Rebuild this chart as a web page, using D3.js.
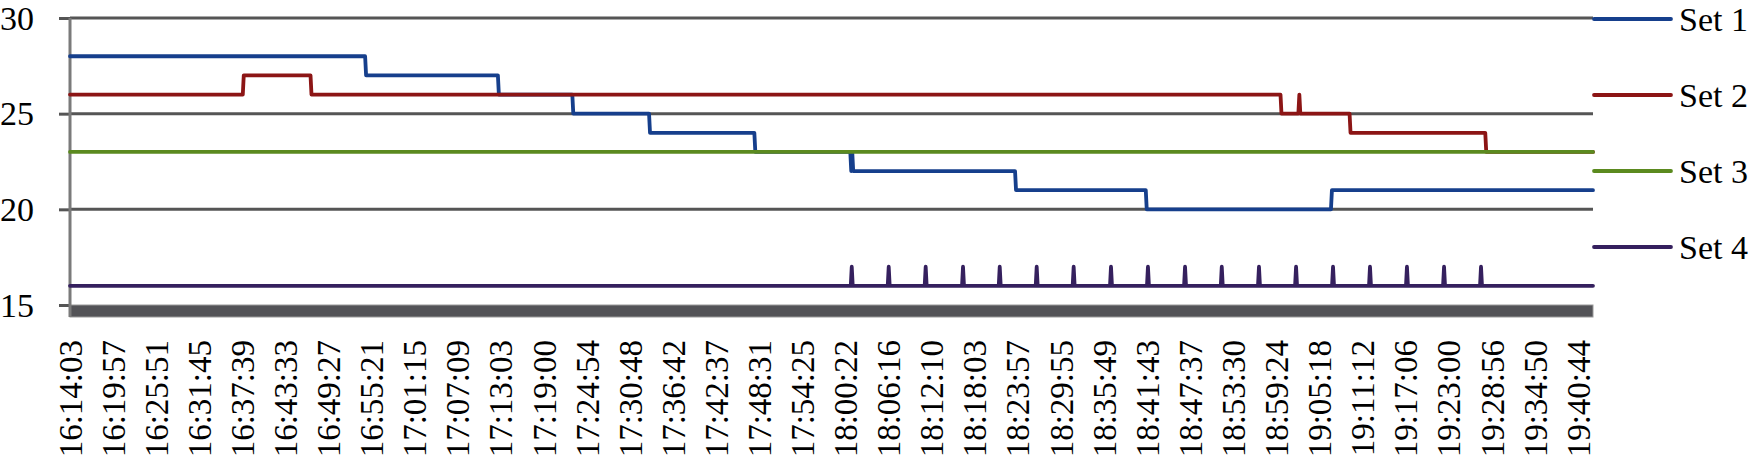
<!DOCTYPE html>
<html lang="en">
<head>
    <meta charset="utf-8"/>
    <title>Sets</title>
    <script src="https://d3js.org/d3.v7.min.js"></script>
    <style>
        body { margin: 0; background: #fff; }
        svg { display: block; }
        text { font-family: "Liberation Serif", "Times New Roman", serif; font-size: 33px; fill: #000; }
    </style>
</head>
<body>
<svg width="1750" height="465"></svg>
<script>
    // tick labels on the time axis
    const labelTimes = ["16:14:03", "16:19:57", "16:25:51", "16:31:45", "16:37:39", "16:43:33", "16:49:27",
        "16:55:21", "17:01:15", "17:07:09", "17:13:03", "17:19:00", "17:24:54", "17:30:48", "17:36:42",
        "17:42:37", "17:48:31", "17:54:25", "18:00:22", "18:06:16", "18:12:10", "18:18:03", "18:23:57",
        "18:29:55", "18:35:49", "18:41:43", "18:47:37", "18:53:30", "18:59:24", "19:05:18", "19:11:12",
        "19:17:06", "19:23:00", "19:28:56", "19:34:50", "19:40:44"];
    const startTime = "16:14:03";
    const endTime = "19:42:48";
    const yTicks = [15, 20, 25, 30];

    const seriesNames = ["Set 1", "Set 2", "Set 3", "Set 4"];
    const seriesColors = ["#163f8c", "#8c1515", "#5b8a1f", "#35205e"];

    // [time, value] vertices
    const set1 = [["16:14:03", 28], ["16:54:30", 28], ["16:54:38", 27], ["17:12:42", 27], ["17:12:50", 26],
        ["17:22:54", 26], ["17:23:02", 25], ["17:33:25", 25], ["17:33:33", 24], ["17:47:51", 24],
        ["17:47:59", 23], ["18:01:00", 23], ["18:01:08", 22], ["18:01:16", 23], ["18:01:24", 22],
        ["18:23:35", 22], ["18:23:43", 21], ["18:41:30", 21], ["18:41:38", 20], ["19:06:53", 20],
        ["19:07:01", 21], ["19:42:48", 21]];
    const set2 = [["16:14:03", 26], ["16:37:44", 26], ["16:37:52", 27], ["16:47:01", 27], ["16:47:09", 26],
        ["18:59:58", 26], ["19:00:06", 25], ["19:02:25", 25], ["19:02:33", 26], ["19:02:41", 25],
        ["19:09:26", 25], ["19:09:34", 24], ["19:28:02", 24], ["19:28:10", 23], ["19:42:48", 23]];
    const set3 = [["16:14:03", 23], ["19:42:48", 23]];
    const set4 = [["16:14:03", 16],
        ["18:01:04", 16], ["18:01:12", 17], ["18:01:20", 16],
        ["18:06:08", 16], ["18:06:16", 17], ["18:06:24", 16],
        ["18:11:12", 16], ["18:11:20", 17], ["18:11:28", 16],
        ["18:16:19", 16], ["18:16:27", 17], ["18:16:35", 16],
        ["18:21:21", 16], ["18:21:29", 17], ["18:21:37", 16],
        ["18:26:25", 16], ["18:26:33", 17], ["18:26:41", 16],
        ["18:31:29", 16], ["18:31:37", 17], ["18:31:45", 16],
        ["18:36:36", 16], ["18:36:44", 17], ["18:36:52", 16],
        ["18:41:40", 16], ["18:41:48", 17], ["18:41:56", 16],
        ["18:46:45", 16], ["18:46:53", 17], ["18:47:01", 16],
        ["18:51:47", 16], ["18:51:55", 17], ["18:52:03", 16],
        ["18:56:53", 16], ["18:57:01", 17], ["18:57:09", 16],
        ["19:01:58", 16], ["19:02:06", 17], ["19:02:14", 16],
        ["19:07:02", 16], ["19:07:10", 17], ["19:07:18", 16],
        ["19:12:06", 16], ["19:12:14", 17], ["19:12:22", 16],
        ["19:17:10", 16], ["19:17:18", 17], ["19:17:26", 16],
        ["19:22:15", 16], ["19:22:23", 17], ["19:22:31", 16],
        ["19:27:19", 16], ["19:27:27", 17], ["19:27:35", 16],
        ["19:42:48", 16]];

    const parse = d3.timeParse("%H:%M:%S");
    const fmt = d3.timeFormat("%H:%M:%S");

    const svg = d3.select("svg");
    const plotLeft = 70, plotRight = 1593, plotTop = 18, plotBottom = 305;

    const x = d3.scaleTime().domain([parse(startTime), parse(endTime)]).range([plotLeft, plotRight]);
    const y = d3.scaleLinear().domain([15, 30]).range([plotBottom, plotTop]);

    // horizontal gridlines
    svg.append("g")
        .selectAll("line")
        .data(yTicks.filter(d => d > 15))
        .enter()
        .append("line")
        .attr("x1", plotLeft)
        .attr("x2", plotRight)
        .attr("y1", d => y(d))
        .attr("y2", d => y(d))
        .attr("stroke", "#555555")
        .attr("stroke-width", 3);

    // dense category ticks form a solid band under the plot
    const bandH = 12;
    svg.append("rect")
        .attr("x", plotLeft)
        .attr("y", y(15))
        .attr("width", plotRight - plotLeft)
        .attr("height", bandH)
        .attr("fill", "#535357")
        .attr("stroke", "#9a9a9a")
        .attr("stroke-width", 1);

    // y axis
    const yAxis = svg.append("g")
        .attr("transform", `translate(${plotLeft},0)`)
        .call(d3.axisLeft(y).tickValues(yTicks).tickSize(11).tickPadding(25).tickFormat(d3.format("d")));
    yAxis.select(".domain").remove();
    yAxis.selectAll(".tick line").attr("stroke", "#555555").attr("stroke-width", 3);
    yAxis.selectAll(".tick text").attr("dy", "0.33em").style("font-size", "34px")
        .style("font-family", "'Liberation Serif', serif").attr("fill", "#000");
    svg.append("line")
        .attr("x1", plotLeft).attr("x2", plotLeft)
        .attr("y1", y(30)).attr("y2", y(15) + bandH)
        .attr("stroke", "#7a7a7a")
        .attr("stroke-width", 3);

    // x axis labels
    const xAxis = svg.append("g")
        .attr("transform", `translate(0,${y(15) + bandH})`)
        .call(d3.axisBottom(x).tickValues(labelTimes.map(parse)).tickSize(0).tickFormat(fmt));
    xAxis.select(".domain").remove();
    xAxis.selectAll(".tick text")
        .attr("transform", "rotate(-90)")
        .attr("text-anchor", "end")
        .attr("x", -23)
        .attr("y", 0)
        .attr("dy", "0.34em")
        .style("font-size", "33px")
        .style("font-family", "'Liberation Serif', serif")
        .attr("fill", "#000");

    // series lines
    const line = d3.line()
        .x(d => x(parse(d[0])))
        .y(d => y(d[1]));

    const allSets = [set1, set2, set3, set4];
    svg.append("g")
        .selectAll("path")
        .data(allSets)
        .enter()
        .append("path")
        .attr("d", line)
        .attr("fill", "none")
        .attr("stroke", (d, i) => seriesColors[i])
        .attr("stroke-width", 3.8)
        .attr("stroke-linejoin", "round")
        .attr("stroke-linecap", "round");

    // legend
    const legend = svg.append("g")
        .selectAll("g")
        .data(seriesNames)
        .enter()
        .append("g")
        .attr("transform", (d, i) => `translate(1594,${19 + i * 76})`);
    legend.append("line")
        .attr("x1", 0)
        .attr("x2", 77)
        .attr("stroke", (d, i) => seriesColors[i])
        .attr("stroke-width", 3.8)
        .attr("stroke-linecap", "round");
    legend.append("text")
        .attr("x", 85)
        .attr("dy", "0.34em")
        .style("font-size", "34px")
        .text(d => d);
</script>
</body>
</html>
